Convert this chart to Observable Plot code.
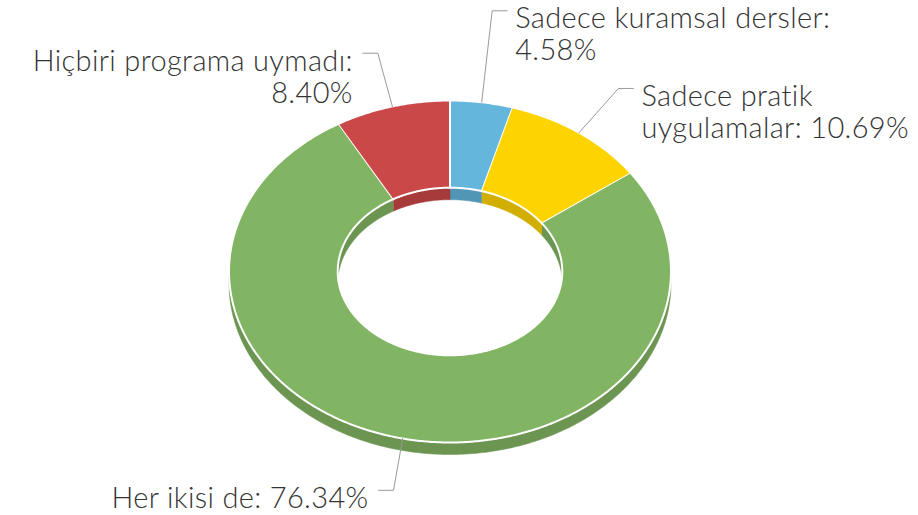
<!DOCTYPE html>
<html>
<head>
<meta charset="utf-8">
<script src="https://cdn.jsdelivr.net/npm/d3@7"></script>
<script src="https://cdn.jsdelivr.net/npm/@observablehq/plot@0.6"></script>
<style>
  html, body { margin: 0; padding: 0; background: #fff; }
  #chart svg { display: block; }
  #chart text { letter-spacing: 0.35px; }
</style>
</head>
<body>
<div id="chart"></div>
<script>
// ---- data ----
const categories = ["Sadece kuramsal dersler", "Sadece pratik uygulamalar", "Her ikisi de", "Hiçbiri programa uymadı"];
const values = [4.58, 10.69, 76.34, 8.40];
const labels = ["Sadece kuramsal dersler:\n4.58%", "Sadece pratik\nuygulamalar: 10.69%", "Her ikisi de: 76.34%", "Hiçbiri programa uymadı:\n8.40%"];
const colors = ["#64b6dd", "#fed400", "#82b563", "#cb4848"];

// ---- layout ----
const W = 918, H = 515;
const mL = 228.5, mR = 247.5, mT = 100, mB = 73;
const rxPx = (W - mL - mR) / 2, ryPx = (H - mT - mB) / 2;
const depth = 12 / ryPx;          // side height in y units
const inX = 0.508, inY = 0.49;    // hole size relative to outer
const labelDist = 52;             // px
const labelNudge = [[3, -40], [9, -2], [2, 1], [-1, -3]]; // px
const hookLen = 15;

const step = Math.PI / 360;
function arc(a0, a1, fx, fy, off) {
  const n = Math.max(2, Math.ceil(Math.abs(a1 - a0) / step));
  const pts = [];
  for (let k = 0; k <= n; k++) {
    const a = a0 + (a1 - a0) * k / n;
    pts.push([fx * Math.sin(a), fy * Math.cos(a) - off]);
  }
  return pts;
}

const arcs = d3.pie().sort(null).value(d => d)(values);

const faces = [], outerWalls = [], innerWalls = [], connectors = [], textPts = [];
arcs.forEach((p, i) => {
  const c = colors[i];
  const dark = d3.color(c).darker(0.55).formatHex();
  // top face
  const poly = arc(p.startAngle, p.endAngle, 1, 1, 0).concat(arc(p.endAngle, p.startAngle, inX, inY, 0));
  poly.forEach(([x, y]) => faces.push({id: i, x, y, fill: c}));
  // outer wall (front half: PI/2 .. 3PI/2)
  const s = Math.max(p.startAngle, Math.PI / 2), e = Math.min(p.endAngle, 3 * Math.PI / 2);
  if (e > s) {
    arc(s, e, 1, 1, 0).concat(arc(e, s, 1, 1, depth))
      .forEach(([x, y]) => outerWalls.push({id: i, x, y, fill: dark}));
  }
  // inner wall (back half: 0..PI/2 and 3PI/2..2PI)
  [[0, Math.PI / 2], [3 * Math.PI / 2, 2 * Math.PI]].forEach(([r0, r1], j) => {
    const s2 = Math.max(p.startAngle, r0), e2 = Math.min(p.endAngle, r1);
    if (e2 > s2) {
      arc(s2, e2, inX, inY, 0).concat(arc(e2, s2, inX, inY, depth))
        .forEach(([x, y]) => innerWalls.push({id: i + "-" + j, x, y, fill: dark}));
    }
  });
  // connector
  const m = (p.startAngle + p.endAngle) / 2;
  const side = Math.sin(m) >= 0 ? 1 : -1;
  const start = [Math.sin(m), Math.cos(m)];
  const elbow = [
    Math.sin(m) * (1 + labelDist / rxPx) + labelNudge[i][0] / rxPx,
    Math.cos(m) * (1 + labelDist / ryPx) - labelNudge[i][1] / ryPx
  ];
  const end = [elbow[0] + side * hookLen / rxPx, elbow[1]];
  [start, elbow, end].forEach(([x, y]) => connectors.push({id: i, x, y}));
  textPts.push({x: end[0], y: end[1], text: labels[i], side});
});

const textStyle = {x: "x", y: "y", text: "text", lineAnchor: "top", lineHeight: 1.1, dy: -5, fontSize: 29, fontFamily: "Lato", fontWeight: 300, fill: "#333"};

const chart = Plot.plot({
  width: W, height: H,
  marginLeft: mL, marginRight: mR, marginTop: mT, marginBottom: mB,
  x: {domain: [-1, 1], axis: null},
  y: {domain: [-1, 1], axis: null},
  color: {type: "identity"},
  marks: [
    Plot.line(outerWalls, {x: "x", y: "y", z: "id", fill: "fill", stroke: "fill", strokeWidth: 0.5, curve: "linear"}),
    Plot.line(innerWalls, {x: "x", y: "y", z: "id", fill: "fill", stroke: "fill", strokeWidth: 0.5, curve: "linear"}),
    Plot.line(faces, {x: "x", y: "y", z: "id", fill: "fill", stroke: "#fff", strokeWidth: 2, strokeLinejoin: "round", curve: "linear"}),
    Plot.line(connectors, {x: "x", y: "y", z: "id", stroke: "#9a9a9a", strokeWidth: 1}),
    Plot.text(textPts.filter(d => d.side > 0), {...textStyle, textAnchor: "start", dx: 8}),
    Plot.text(textPts.filter(d => d.side < 0), {...textStyle, textAnchor: "end", dx: -10})
  ]
});
document.getElementById("chart").appendChild(chart);
</script>
</body>
</html>
